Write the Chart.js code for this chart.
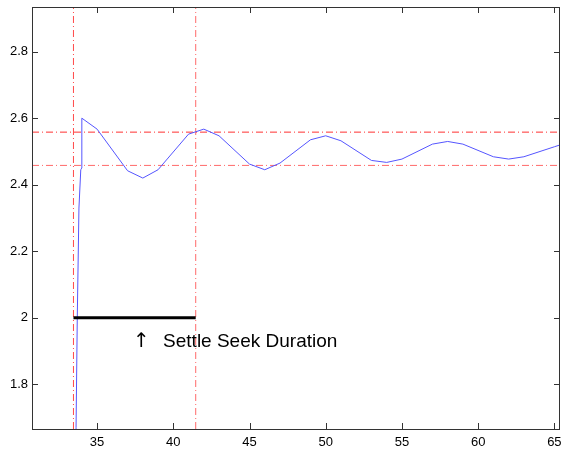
<!DOCTYPE html>
<html>
<head>
<meta charset="utf-8">
<script src="https://cdn.jsdelivr.net/npm/chart.js@4"></script>
<style>
  body { margin: 0; background: #fff; }
  canvas { display: block; }
</style>
</head>
<body>
<canvas id="chart" width="561" height="449"></canvas>
<script>
// seek response (position vs time)
const respX = [33.6, 33.62, 33.7, 33.81, 33.93, 33.99, 34.0, 35, 37, 38, 39, 41, 42, 43, 45, 46, 47, 49, 50, 51, 53, 54, 55, 57, 58, 59, 61, 62, 63, 65, 65.4];
const respY = [1.6, 1.67, 2.0, 2.33, 2.445, 2.45, 2.6, 2.567, 2.442, 2.42, 2.445, 2.552, 2.567, 2.547, 2.462, 2.445, 2.465, 2.535, 2.547, 2.532, 2.473, 2.467, 2.477, 2.522, 2.53, 2.522, 2.484, 2.477, 2.484, 2.514, 2.52];

// settle band and seek markers
const bandUpper = 2.558;
const bandLower = 2.458;
const seekStart = 33.45;
const seekEnd = 41.47;
const seekLevel = 2;

const xRange = [30.73, 65.37];
const yRange = [1.666, 2.934];
const xTicks = [35, 40, 45, 50, 55, 60, 65];
const yTicks = [1.8, 2, 2.2, 2.4, 2.6, 2.8];

const label = { arrow: "\u2191", text: "Settle Seek Duration", arrowX: 37.9, textX: 39.33, y: 1.911 };

const FONT = '"Liberation Sans", Arial, sans-serif';
const dashDot = [7, 3, 1, 3];

const pts = (xs, ys) => xs.map((x, i) => ({ x, y: ys[i] }));

function refLine(points, color) {
  return { data: points, borderColor: color, borderWidth: 1, borderDash: dashDot, clip: 0, order: 3 };
}

const frame = {
  id: "frame",
  afterDraw(chart) {
    const { ctx, chartArea: a, scales } = chart;
    ctx.save();
    ctx.strokeStyle = "#333";
    ctx.lineWidth = 1;
    ctx.strokeRect(a.left + 0.5, a.top + 0.5, a.right - a.left - 1, a.bottom - a.top);
    ctx.beginPath();
    xTicks.forEach((v) => {
      const px = Math.round(scales.x.getPixelForValue(v)) + 0.5;
      ctx.moveTo(px, a.bottom); ctx.lineTo(px, a.bottom - 6);
      ctx.moveTo(px, a.top); ctx.lineTo(px, a.top + 6);
    });
    yTicks.forEach((v) => {
      const py = Math.round(scales.y.getPixelForValue(v)) + 0.5;
      ctx.moveTo(a.left, py); ctx.lineTo(a.left + 6, py);
      ctx.moveTo(a.right, py); ctx.lineTo(a.right - 6, py);
    });
    ctx.stroke();

    ctx.fillStyle = "#000";
    ctx.textBaseline = "alphabetic";
    ctx.textAlign = "center";
    ctx.font = '20px "DejaVu Sans", sans-serif';
    ctx.fillText(label.arrow, scales.x.getPixelForValue(label.arrowX), scales.y.getPixelForValue(label.y));
    ctx.textAlign = "left";
    ctx.font = "19px " + FONT;
    ctx.fillText(label.text, scales.x.getPixelForValue(label.textX), scales.y.getPixelForValue(label.y));
    ctx.restore();
  },
};

const noPad = (s) => { s.paddingLeft = 0; s.paddingRight = 0; s.paddingTop = 0; s.paddingBottom = 0; };

new Chart(document.getElementById("chart"), {
  type: "scatter",
  data: {
    datasets: [
      { data: pts([seekStart, seekEnd], [seekLevel, seekLevel]), borderColor: "#000", borderWidth: 3, clip: 0, order: 1 },
      { data: pts(respX, respY), borderColor: "rgb(85,85,255)", borderWidth: 1, order: 2 },
      refLine(pts(xRange, [bandUpper, bandUpper]), "#ff3030"),
      refLine(pts(xRange, [bandLower, bandLower]), "#ff6a6a"),
      refLine(pts([seekStart, seekStart], yRange), "#ff4a4a"),
      refLine(pts([seekEnd, seekEnd], yRange), "#ff6a6a"),
    ].map((d) => ({ showLine: true, pointRadius: 0, pointHoverRadius: 0, tension: 0, ...d })),
  },
  options: {
    responsive: false,
    animation: false,
    devicePixelRatio: 1,
    layout: { padding: { top: 7, right: 1, left: 0, bottom: 0 } },
    plugins: { legend: { display: false }, tooltip: { enabled: false } },
    scales: {
      x: {
        type: "linear",
        min: xRange[0],
        max: xRange[1],
        afterBuildTicks: (s) => { s.ticks = xTicks.map((value) => ({ value })); },
        afterFit: (s) => { s.height = 20; noPad(s); },
        grid: { display: false, drawTicks: false },
        border: { display: false },
        ticks: { color: "#000", font: { family: FONT, size: 13 }, padding: 6, maxRotation: 0, callback: (v) => String(v) },
      },
      y: {
        type: "linear",
        min: yRange[0],
        max: yRange[1],
        afterBuildTicks: (s) => { s.ticks = yTicks.map((value) => ({ value })); },
        afterFit: (s) => { s.width = 32; noPad(s); },
        grid: { display: false, drawTicks: false },
        border: { display: false },
        ticks: { color: "#000", font: { family: FONT, size: 13 }, padding: 4, callback: (v) => String(v) },
      },
    },
  },
  plugins: [frame],
});
</script>
</body>
</html>
